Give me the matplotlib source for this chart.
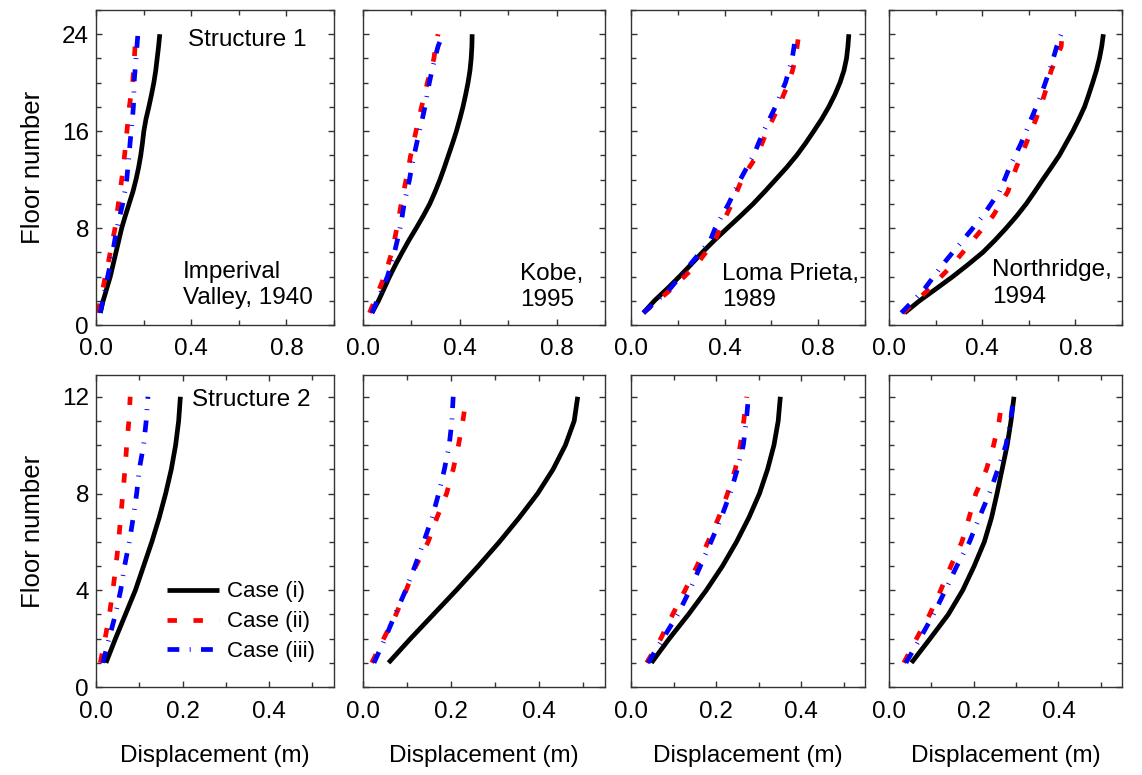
import matplotlib
matplotlib.use('Agg')
import matplotlib.pyplot as plt
from matplotlib.ticker import MultipleLocator

plt.rcParams['font.family'] = ['Liberation Sans', 'DejaVu Sans']

# ── data ───────────────────────────────────────────────────────────────────
floors_s1 = list(range(1, 25))
floors_s2 = list(range(1, 13))

quakes = ["Imperival\nValley, 1940", "Kobe,\n1995", "Loma Prieta,\n1989", "Northridge,\n1994"]
case_labels = ["Case (i)", "Case (ii)", "Case (iii)"]

# structure 1 (24 floors), displacement in m
s1_imperial_i   = [0.018, 0.030, 0.045, 0.060, 0.072, 0.084, 0.096, 0.108, 0.123, 0.139, 0.155, 0.168,
                   0.179, 0.188, 0.195, 0.201, 0.210, 0.222, 0.233, 0.243, 0.251, 0.257, 0.263, 0.268]
s1_imperial_ii  = [0.008, 0.018, 0.029, 0.039, 0.050, 0.060, 0.070, 0.080, 0.087, 0.094, 0.101, 0.108,
                   0.114, 0.120, 0.125, 0.130, 0.135, 0.140, 0.147, 0.154, 0.158, 0.161, 0.164, 0.166]
s1_imperial_iii = [0.018, 0.028, 0.039, 0.049, 0.060, 0.070, 0.079, 0.088, 0.100, 0.112, 0.121, 0.129,
                   0.134, 0.139, 0.143, 0.148, 0.153, 0.157, 0.159, 0.160, 0.164, 0.168, 0.172, 0.176]

s1_kobe_i   = [0.037, 0.064, 0.087, 0.110, 0.135, 0.162, 0.190, 0.220, 0.249, 0.276, 0.298, 0.318,
               0.336, 0.353, 0.370, 0.386, 0.400, 0.413, 0.424, 0.434, 0.442, 0.447, 0.450, 0.451]
s1_kobe_ii  = [0.027, 0.048, 0.068, 0.088, 0.104, 0.119, 0.130, 0.140, 0.149, 0.158, 0.168, 0.178,
               0.188, 0.197, 0.208, 0.219, 0.230, 0.242, 0.254, 0.266, 0.280, 0.293, 0.300, 0.310]
s1_kobe_iii = [0.037, 0.058, 0.080, 0.101, 0.116, 0.130, 0.142, 0.153, 0.162, 0.170, 0.181, 0.192,
               0.201, 0.211, 0.222, 0.233, 0.245, 0.256, 0.265, 0.274, 0.285, 0.297, 0.310, 0.330]

s1_loma_i   = [0.053, 0.100, 0.155, 0.207, 0.257, 0.305, 0.357, 0.412, 0.468, 0.522, 0.571, 0.618,
               0.665, 0.708, 0.746, 0.781, 0.815, 0.845, 0.871, 0.893, 0.910, 0.921, 0.927, 0.931]
s1_loma_ii  = [0.053, 0.115, 0.174, 0.228, 0.281, 0.320, 0.360, 0.381, 0.406, 0.431, 0.452, 0.474,
               0.505, 0.539, 0.560, 0.581, 0.606, 0.631, 0.652, 0.674, 0.690, 0.703, 0.710, 0.717]
s1_loma_iii = [0.053, 0.110, 0.167, 0.210, 0.253, 0.296, 0.339, 0.360, 0.388, 0.417, 0.442, 0.467,
               0.495, 0.524, 0.545, 0.567, 0.592, 0.617, 0.638, 0.660, 0.675, 0.689, 0.697, 0.703]

s1_north_i   = [0.067, 0.131, 0.203, 0.274, 0.340, 0.403, 0.455, 0.503, 0.548, 0.589, 0.625, 0.660,
                0.696, 0.731, 0.760, 0.789, 0.815, 0.839, 0.857, 0.874, 0.890, 0.903, 0.913, 0.920]
s1_north_ii  = [0.060, 0.117, 0.174, 0.224, 0.274, 0.317, 0.360, 0.403, 0.446, 0.478, 0.510, 0.528,
                0.546, 0.568, 0.589, 0.610, 0.631, 0.649, 0.667, 0.682, 0.696, 0.718, 0.739, 0.743]
s1_north_iii = [0.053, 0.103, 0.153, 0.192, 0.231, 0.274, 0.317, 0.360, 0.403, 0.438, 0.474, 0.496,
                0.517, 0.542, 0.567, 0.589, 0.610, 0.632, 0.653, 0.671, 0.689, 0.705, 0.720, 0.739]

# structure 2 (12 floors)
s2_imperial_i   = [0.023, 0.045, 0.068, 0.091, 0.110, 0.129, 0.146, 0.161, 0.174, 0.184, 0.191, 0.195]
s2_imperial_ii  = [0.010, 0.021, 0.031, 0.039, 0.046, 0.052, 0.057, 0.062, 0.067, 0.071, 0.076, 0.079]
s2_imperial_iii = [0.016, 0.030, 0.045, 0.057, 0.066, 0.077, 0.086, 0.094, 0.100, 0.110, 0.116, 0.120]

s2_kobe_i   = [0.058, 0.108, 0.160, 0.212, 0.262, 0.310, 0.355, 0.397, 0.432, 0.460, 0.480, 0.488]
s2_kobe_ii  = [0.020, 0.047, 0.075, 0.098, 0.120, 0.148, 0.168, 0.190, 0.205, 0.217, 0.227, 0.235]
s2_kobe_iii = [0.025, 0.050, 0.073, 0.097, 0.118, 0.138, 0.157, 0.172, 0.185, 0.196, 0.202, 0.205]

s2_loma_i   = [0.048, 0.090, 0.135, 0.177, 0.215, 0.248, 0.277, 0.302, 0.321, 0.336, 0.346, 0.351]
s2_loma_ii  = [0.037, 0.070, 0.098, 0.127, 0.155, 0.181, 0.206, 0.227, 0.245, 0.257, 0.265, 0.272]
s2_loma_iii = [0.040, 0.075, 0.110, 0.138, 0.163, 0.188, 0.212, 0.233, 0.250, 0.264, 0.271, 0.276]

s2_north_i   = [0.053, 0.097, 0.140, 0.174, 0.201, 0.225, 0.242, 0.255, 0.267, 0.279, 0.288, 0.295]
s2_north_ii  = [0.035, 0.065, 0.096, 0.122, 0.146, 0.172, 0.189, 0.205, 0.230, 0.247, 0.260, 0.268]
s2_north_iii = [0.040, 0.073, 0.105, 0.133, 0.160, 0.190, 0.213, 0.237, 0.257, 0.276, 0.287, 0.294]

s1_cases = [(s1_imperial_i, s1_imperial_ii, s1_imperial_iii),
            (s1_kobe_i, s1_kobe_ii, s1_kobe_iii),
            (s1_loma_i, s1_loma_ii, s1_loma_iii),
            (s1_north_i, s1_north_ii, s1_north_iii)]
s2_cases = [(s2_imperial_i, s2_imperial_ii, s2_imperial_iii),
            (s2_kobe_i, s2_kobe_ii, s2_kobe_iii),
            (s2_loma_i, s2_loma_ii, s2_loma_iii),
            (s2_north_i, s2_north_ii, s2_north_iii)]

# ── styles / layout ────────────────────────────────────────────────────────
W, H = 1142, 775
LW = 3.4
styles = [dict(color='black', lw=LW, ls='-', solid_capstyle='butt', solid_joinstyle='round'),
          dict(color='#ff0000', lw=LW, ls=(0, (2.0, 3.5))),
          dict(color='#0000ff', lw=LW, ls=(0, (2.5, 2.2, 0.2, 2.2)))]

cols_px = [(96, 334), (363, 605), (631, 865), (889, 1122)]
rows_px = [(10, 325), (375, 687)]
quake_pos = [(0.365, 0.127), (0.649, 0.12), (0.389, 0.12), (0.442, 0.132)]

fig = plt.figure(figsize=(W / 100, H / 100), dpi=100)

def make_ax(r, c):
    x0, x1 = cols_px[c]
    y0, y1 = rows_px[r]
    return fig.add_axes([x0 / W, 1 - y1 / H, (x1 - x0) / W, (y1 - y0) / H])

def style_ax(ax):
    for sp in ax.spines.values():
        sp.set_color('#333333')
        sp.set_linewidth(1.0)
    ax.tick_params(which='both', direction='in', top=True, right=True,
                   color='#333333', labelsize=17.5)
    ax.tick_params(which='major', length=4.5, width=1.0)
    ax.tick_params(which='minor', length=3.5, width=1.0)
    ax.tick_params(axis='x', pad=9)
    ax.tick_params(axis='y', pad=5)

for c in range(4):
    # structure 1
    ax = make_ax(0, c)
    for vals, st in zip(s1_cases[c], styles):
        ax.plot(vals, floors_s1, **st)
    ax.set_xlim(0, 1.0)
    ax.set_ylim(0, 26)
    ax.xaxis.set_major_locator(MultipleLocator(0.4))
    ax.xaxis.set_minor_locator(MultipleLocator(0.2))
    ax.yaxis.set_major_locator(MultipleLocator(8))
    ax.yaxis.set_minor_locator(MultipleLocator(2))
    ax.xaxis.set_major_formatter(lambda v, p: f"{v:.1f}")
    style_ax(ax)
    if c == 0:
        ax.set_ylabel("Floor number", fontsize=18.5, labelpad=12)
        ax.text(0.387, 0.905, "Structure 1", transform=ax.transAxes,
                fontsize=17.5, ha='left', va='center')
    else:
        ax.tick_params(axis='y', labelleft=False)
    ax.text(quake_pos[c][0], quake_pos[c][1], quakes[c], transform=ax.transAxes,
            fontsize=17.5, ha='left', va='center', linespacing=1.25)

    # structure 2
    ax = make_ax(1, c)
    lines = []
    for vals, st in zip(s2_cases[c], styles):
        ln, = ax.plot(vals, floors_s2, **st)
        lines.append(ln)
    ax.set_xlim(0, 0.55)
    ax.set_ylim(0, 12.9)
    ax.xaxis.set_major_locator(MultipleLocator(0.2))
    ax.xaxis.set_minor_locator(MultipleLocator(0.1))
    ax.yaxis.set_major_locator(MultipleLocator(4))
    ax.yaxis.set_minor_locator(MultipleLocator(1))
    ax.xaxis.set_major_formatter(lambda v, p: f"{v:.1f}")
    style_ax(ax)
    ax.tick_params(axis='x', pad=10)
    ax.set_xlabel("Displacement (m)", fontsize=17.5, labelpad=16)
    if c == 0:
        ax.set_ylabel("Floor number", fontsize=18.5, labelpad=12)
        ax.text(0.403, 0.92, "Structure 2", transform=ax.transAxes,
                fontsize=17.5, ha='left', va='center')
        ax.legend(lines, case_labels, loc='center left', bbox_to_anchor=(0.297, 0.209),
                  frameon=False, fontsize=16, handlelength=2.35, handletextpad=0.35,
                  labelspacing=0.4, borderpad=0, borderaxespad=0)
    else:
        ax.tick_params(axis='y', labelleft=False)

fig.savefig("out.png", dpi=100)
